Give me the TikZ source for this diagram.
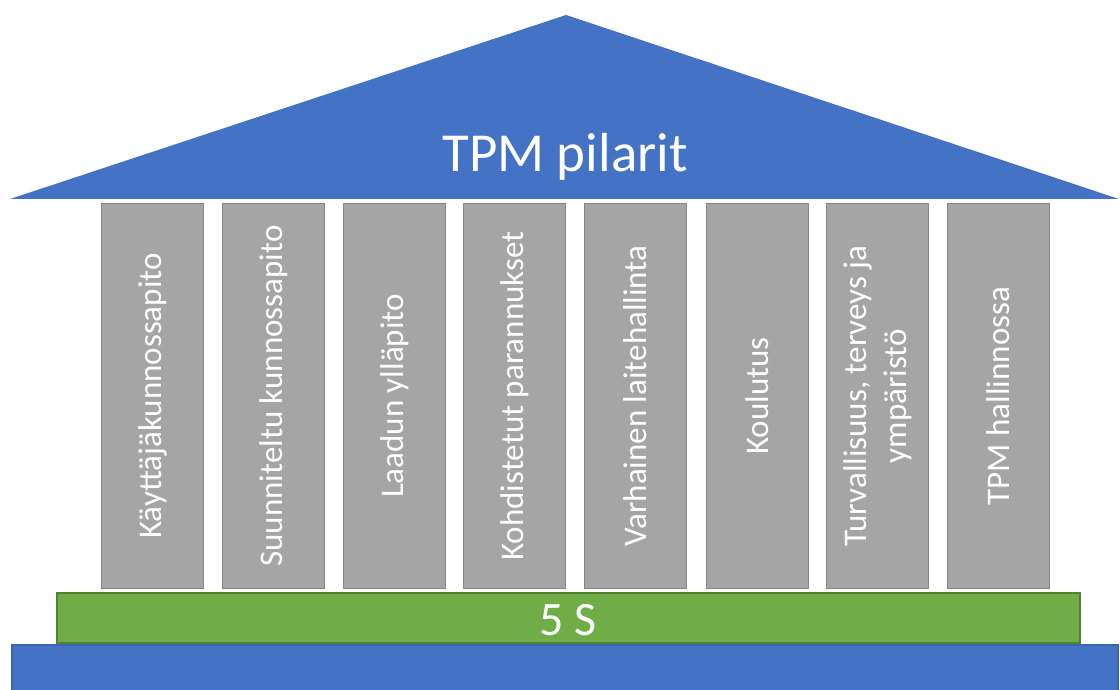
\documentclass[tikz,border=0pt]{standalone}
\usepackage{fontspec}
\setmainfont{Carlito}
\usepackage{xcolor}
\usetikzlibrary{positioning}

\definecolor{roofblue}{HTML}{4472C4}
\definecolor{roofedge}{HTML}{3A65B0}
\definecolor{pillargray}{HTML}{A5A5A5}
\definecolor{pillaredge}{HTML}{868686}
\definecolor{basegreen}{HTML}{70AD47}
\definecolor{greenedge}{HTML}{548235}

\begin{document}
\begin{tikzpicture}[
  x=1pt, y=-1pt,
  pillar/.style={draw=pillaredge, fill=pillargray, line width=1.2pt, rotate=90,
    minimum width=385pt, minimum height=102pt, inner sep=0pt, align=center,
    text=white, font=\fontsize{33}{40}\selectfont},
  slab/.style={line width=1.2pt, text=white}
]
\useasboundingbox (0,0) rectangle (1120,690);
% katto
\fill[roofblue] (10,199) -- (566,15) -- (1119,199) -- cycle;
\node[text=white, font=\fontsize{55}{60}\selectfont, anchor=base] (title) at (565,172) {TPM pilarit};
% pilarit
\node[pillar] (p1) at (152.5,396) {Käyttäjäkunnossapito};
\node[pillar] (p2) at (273.5,396) {Suunniteltu kunnossapito};
\node[pillar] (p3) at (394.5,396) {Laadun ylläpito};
\node[pillar] (p4) at (514.5,396) {Kohdistetut parannukset};
\node[pillar] (p5) at (635.5,396) {Varhainen laitehallinta};
\node[pillar] (p6) at (757.5,396) {Koulutus};
\node[pillar] (p7) at (877.5,396) {Turvallisuus, terveys ja\\ympäristö};
\node[pillar] (p8) at (998.5,396) {TPM hallinnossa};
% perusta
\draw[slab, draw=greenedge, fill=basegreen] (57,593) rectangle (1080,643);
\node[text=white, font=\fontsize{48}{52}\selectfont, anchor=base] (fives) at (568,635) {5 S};
\draw[slab, draw=roofedge, fill=roofblue] (12,645) rectangle (1118,695);
\end{tikzpicture}
\end{document}
